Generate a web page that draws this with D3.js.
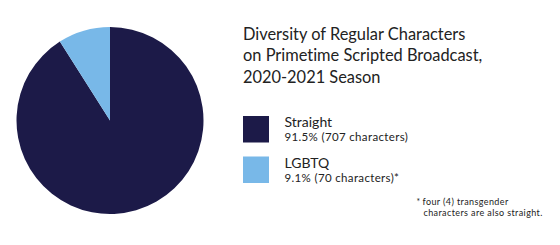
<!DOCTYPE html>
<html>
<head>
<meta charset="utf-8">
<script src="https://cdn.jsdelivr.net/npm/d3@7"></script>
<style>
  body { margin: 0; background: #fff; }
  text { font-family: Lato, "Noto Sans", sans-serif; fill: #222; font-variant-ligatures: none; }
</style>
</head>
<body>
<script>
// data
var categories = ["Straight", "LGBTQ"];
var counts = [707, 70];
var percentLabels = ["91.5% (707 characters)", "9.1% (70 characters)*"];
var titleLines = ["Diversity of Regular Characters", "on Primetime Scripted Broadcast,", "2020-2021 Season"];
var footnoteLines = ["four (4) transgender", "characters are also straight."];

var width = 560, height = 245;
var radius = 93.5;

var color = d3.scaleOrdinal()
    .domain(categories)
    .range(["#1c1a48", "#78b8e8"]);

var svg = d3.select("body").append("svg")
    .attr("width", width)
    .attr("height", height);

// pie
var pie = d3.pie().sort(null).value(function(d) { return d; });
var arc = d3.arc().innerRadius(0).outerRadius(radius);

var g = svg.append("g")
    .attr("transform", "translate(110,120.5)");

g.selectAll("path")
    .data(pie(counts))
    .enter().append("path")
    .attr("d", arc)
    .style("fill", function(d, i) { return color(categories[i]); });

// title
svg.append("text")
    .attr("x", 243)
    .attr("y", 40)
    .style("font-size", "16.4px")
    .selectAll("tspan")
    .data(titleLines)
    .enter().append("tspan")
    .attr("x", 243)
    .attr("dy", function(d, i) { return i ? 21.3 : 0; })
    .text(function(d) { return d; });

// legend
var legend = svg.selectAll(".legend")
    .data(categories)
    .enter().append("g")
    .attr("class", "legend")
    .attr("transform", function(d, i) { return "translate(243," + (116 + i * 40.5) + ")"; });

legend.append("rect")
    .attr("width", 26)
    .attr("height", 26.5)
    .style("fill", function(d) { return color(d); });

legend.append("text")
    .attr("x", 41.5)
    .attr("y", 11)
    .style("font-size", "14px")
    .text(function(d) { return d; });

legend.append("text")
    .attr("x", 41.5)
    .attr("y", 25)
    .style("font-size", "11.5px")
    .style("letter-spacing", "0.35px")
    .text(function(d, i) { return percentLabels[i]; });

// footnote
svg.append("text")
    .attr("x", 416.5)
    .attr("y", 205)
    .style("font-size", "8.5px")
    .text("*");

svg.append("text")
    .style("font-size", "9px")
    .style("letter-spacing", "0.4px")
    .selectAll("tspan")
    .data(footnoteLines)
    .enter().append("tspan")
    .attr("x", function(d, i) { return i ? 423.5 : 422.5; })
    .attr("y", function(d, i) { return 205 + i * 11; })
    .text(function(d) { return d; });
</script>
</body>
</html>
